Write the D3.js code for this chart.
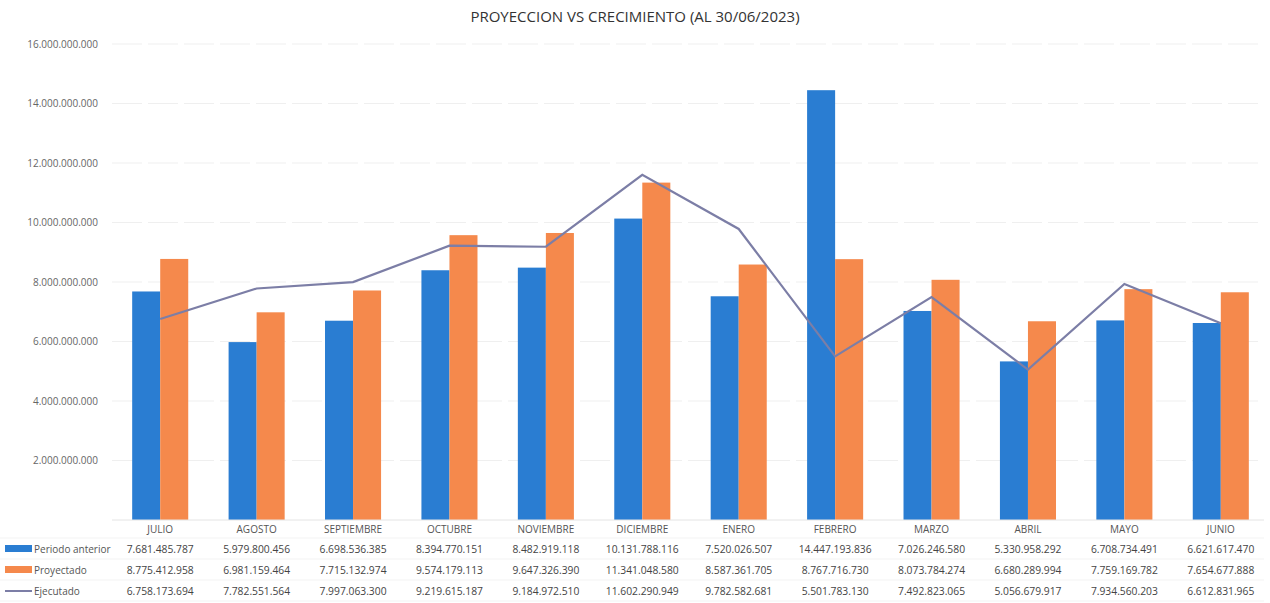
<!DOCTYPE html>
<html>
<head>
<meta charset="utf-8">
<script src="https://cdn.jsdelivr.net/npm/d3@7"></script>
<style>
  body { margin: 0; background: #fff; }
  text { font-family: "Open Sans", sans-serif; fill: #555; }
</style>
</head>
<body>
<script>
// months of the fiscal year, jul 2022 - jun 2023
var months = ["JULIO", "AGOSTO", "SEPTIEMBRE", "OCTUBRE", "NOVIEMBRE", "DICIEMBRE",
              "ENERO", "FEBRERO", "MARZO", "ABRIL", "MAYO", "JUNIO"];

var periodoAnterior = [7681485787, 5979800456, 6698536385, 8394770151, 8482919118, 10131788116,
                       7520026507, 14447193836, 7026246580, 5330958292, 6708734491, 6621617470];
var proyectado = [8775412958, 6981159464, 7715132974, 9574179113, 9647326390, 11341048580,
                  8587361705, 8767716730, 8073784274, 6680289994, 7759169782, 7654677888];
var ejecutado = [6758173694, 7782551564, 7997063300, 9219615187, 9184972510, 11602290949,
                 9782582681, 5501783130, 7492823065, 5056679917, 7934560203, 6612831965];

var yTicks = [0, 2e9, 4e9, 6e9, 8e9, 10e9, 12e9, 14e9, 16e9];

var width = 1270, height = 603;
var margin = {top: 44, right: 1, bottom: 83, left: 112};

var locale = d3.formatLocale({decimal: ",", thousands: ".", grouping: [3], currency: ["$", ""]});
var fmt = locale.format(",d");

var svg = d3.select("body").append("svg")
    .attr("width", width)
    .attr("height", height);

var x = d3.scaleBand()
    .domain(months)
    .range([margin.left, width - margin.right]);

var x1 = d3.scaleBand()
    .domain(["ant", "proy"])
    .range([0, x.bandwidth()])
    .paddingOuter(0.72)
    .paddingInner(0);

var y = d3.scaleLinear()
    .domain([0, 16e9])
    .range([height - margin.bottom, margin.top]);

svg.append("text")
    .attr("x", 635)
    .attr("y", 22)
    .attr("text-anchor", "middle")
    .style("font-size", "15px")
    .style("fill", "#333")
    .text("PROYECCION VS CRECIMIENTO (AL 30/06/2023)");

// grid
svg.append("g")
    .selectAll("line")
    .data(yTicks.filter(function(d) { return d > 0; }))
    .enter().append("line")
    .attr("x1", margin.left)
    .attr("x2", width - 6)
    .attr("y1", function(d) { return y(d); })
    .attr("y2", function(d) { return y(d); })
    .style("stroke", "#efefef")
    .style("stroke-dasharray", "30,6");

var yAxis = d3.axisLeft(y)
    .tickValues(yTicks.filter(function(d) { return d > 0; }))
    .tickFormat(fmt)
    .tickSize(0)
    .tickPadding(14);

svg.append("g")
    .attr("class", "y axis")
    .attr("transform", "translate(" + margin.left + ",0)")
    .call(yAxis)
    .call(function(g) { g.select(".domain").remove(); })
    .selectAll("text")
    .style("font-size", "10px")
    .style("fill", "#666");

var groups = svg.append("g")
    .selectAll("g")
    .data(months)
    .enter().append("g")
    .attr("transform", function(d) { return "translate(" + x(d) + ",0)"; });

groups.append("rect")
    .attr("x", x1("ant"))
    .attr("width", x1.bandwidth())
    .attr("y", function(d, i) { return y(periodoAnterior[i]); })
    .attr("height", function(d, i) { return y(0) - y(periodoAnterior[i]); })
    .style("fill", "#2a7dd2");

groups.append("rect")
    .attr("x", x1("proy"))
    .attr("width", x1.bandwidth())
    .attr("y", function(d, i) { return y(proyectado[i]); })
    .attr("height", function(d, i) { return y(0) - y(proyectado[i]); })
    .style("fill", "#f5894c");

var line = d3.line()
    .x(function(d, i) { return x(months[i]) + x.bandwidth() / 2; })
    .y(function(d) { return y(d); });

svg.append("path")
    .attr("d", line(ejecutado))
    .style("stroke", "#7c7ea6")
    .style("stroke-width", 2.2)
    .style("fill", "none");

// baseline
svg.append("line")
    .attr("x1", margin.left)
    .attr("x2", width - 6)
    .attr("y1", y(0))
    .attr("y2", y(0))
    .style("stroke", "#e4e4e4");

// category labels
svg.append("g")
    .selectAll("text")
    .data(months)
    .enter().append("text")
    .attr("x", function(d) { return x(d) + x.bandwidth() / 2; })
    .attr("y", y(0) + 13)
    .attr("text-anchor", "middle")
    .style("font-size", "10px")
    .text(function(d) { return d; });

// data table
var rows = [
    {name: "Periodo anterior", values: periodoAnterior, color: "#2a7dd2", type: "bar"},
    {name: "Proyectado", values: proyectado, color: "#f5894c", type: "bar"},
    {name: "Ejecutado", values: ejecutado, color: "#7c7ea6", type: "line"}
];
var rowY = d3.scalePoint()
    .domain(rows.map(function(r) { return r.name; }))
    .range([549, 591]);

var row = svg.append("g")
    .selectAll("g")
    .data(rows)
    .enter().append("g")
    .attr("transform", function(d) { return "translate(0," + rowY(d.name) + ")"; });

row.append("rect")
    .attr("x", 5)
    .attr("y", function(d) { return d.type === "bar" ? -4 : -1; })
    .attr("width", 27)
    .attr("height", function(d) { return d.type === "bar" ? 7 : 2; })
    .style("fill", function(d) { return d.color; });

row.append("text")
    .attr("x", 34)
    .attr("y", 4)
    .style("font-size", "10px")
    .text(function(d) { return d.name; });

row.selectAll("text.val")
    .data(function(d) { return d.values; })
    .enter().append("text")
    .attr("class", "val")
    .attr("x", function(d, i) { return x(months[i]) + x.bandwidth() / 2; })
    .attr("y", 4)
    .attr("text-anchor", "middle")
    .style("font-size", "10.3px")
    .style("fill", "#444")
    .text(function(d) { return fmt(d); });

svg.append("g")
    .selectAll("line")
    .data([538, 559, 580, 601])
    .enter().append("line")
    .attr("x1", 0)
    .attr("x2", width - 6)
    .attr("y1", function(d) { return d; })
    .attr("y2", function(d) { return d; })
    .style("stroke", "#f3f3f3");
</script>
</body>
</html>
